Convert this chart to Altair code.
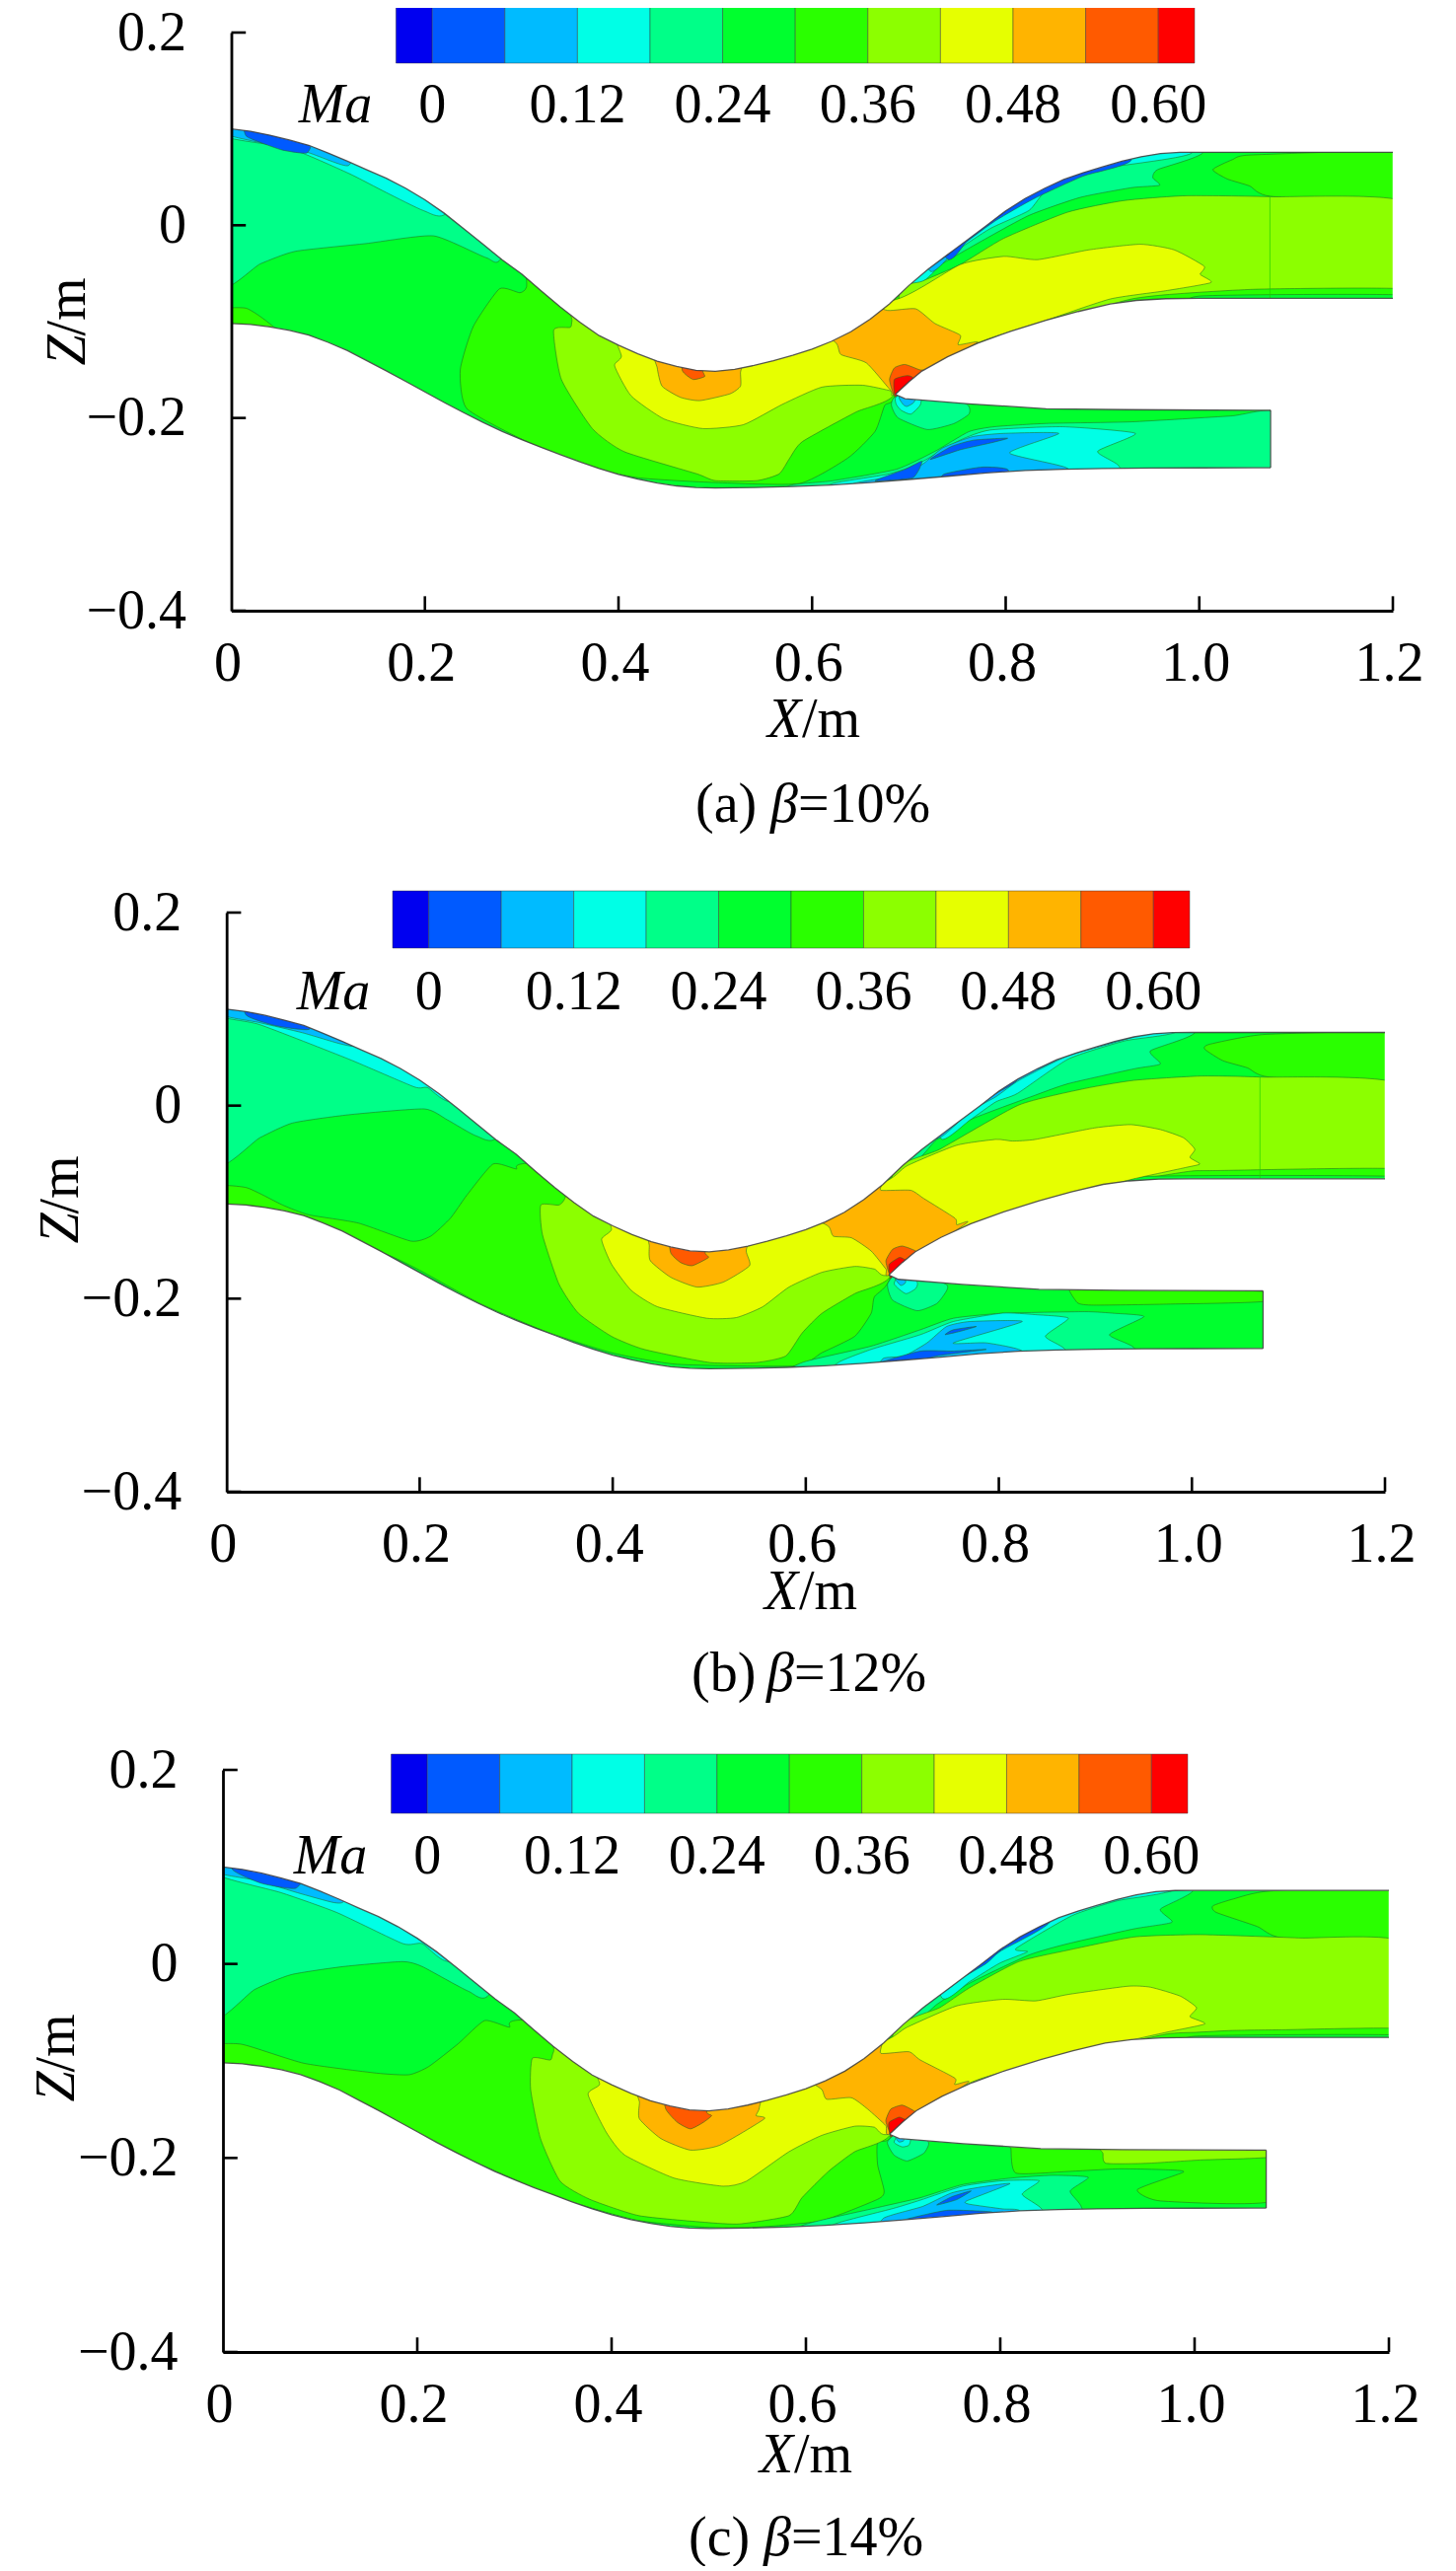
import altair as alt
import pandas as pd

FONT = "Liberation Serif"
BAND_COLORS = ["#0000f0", "#005aff", "#00bbff", "#00ffe6", "#00ff88", "#00ff2e",
               "#2aff00", "#8cff00", "#e6ff00", "#ffb400", "#ff5a00", "#ff0000"]
BAND_EDGES = [-0.03, 0, 0.06, 0.12, 0.18, 0.24, 0.30, 0.36, 0.42, 0.48, 0.54, 0.60, 0.63]
MA_TICKS = [0, 0.12, 0.24, 0.36, 0.48, 0.60]
X_TICKS = [0, 0.2, 0.4, 0.6, 0.8, 1.0, 1.2]
Z_TICKS = [0.2, 0, -0.2, -0.4]

WALL_TOP = [(0, .1), (.02, .0975), (.04, .0935), (.06, .0885), (.08, .083), (.10, .075), (.12, .0665), (.14, .0575),
            (.16, .0488), (.18, .0385), (.20, .0265), (.22, .0125), (.24, -.0035), (.26, -.0197), (.28, -.036),
            (.30, -.0505), (.32, -.068), (.34, -.085), (.36, -.1005), (.38, -.1145), (.40, -.1245), (.42, -.1335),
            (.44, -.141), (.46, -.1465), (.48, -.1505), (.50, -.1515), (.52, -.1495), (.54, -.1455), (.56, -.1405),
            (.58, -.135), (.60, -.1285), (.62, -.1205), (.64, -.1105), (.66, -.0975), (.68, -.0815), (.70, -.0625),
            (.72, -.0455), (.74, -.0305), (.76, -.0155), (.78, -.0005), (.80, .015), (.82, .0277), (.84, .0382),
            (.86, .0475), (.88, .0545), (.90, .0605), (.92, .0665), (.94, .0712), (.96, .0745), (.98, .0757),
            (1.0, .0758), (1.2, .0758)]
WALL_SPLIT_UP = [(.686, -.1755), (.70, -.1625), (.7135, -.1513), (.74, -.1365), (.771, -.1224), (.805, -.11), (.8417, -.0986),
                 (.875, -.0895), (.908, -.0816), (.935, -.078), (.9655, -.0762), (1.0, -.0758), (1.2, -.0758)]
WALL_SPLIT_LOW = [(.686, -.1755), (.696, -.18), (.762, -.1853), (.8417, -.1904), (.926, -.1914), (1.0737, -.192)]
WALL_BOTTOM = [(0, -.102), (.02, -.103), (.04, -.1055), (.06, -.109), (.08, -.114), (.10, -.1215), (.12, -.13),
               (.14, -.1405), (.16, -.151), (.18, -.162), (.20, -.173), (.22, -.184), (.24, -.1945), (.26, -.2045),
               (.28, -.214), (.30, -.2225), (.32, -.2305), (.34, -.238), (.36, -.2455), (.38, -.2525), (.40, -.2585),
               (.42, -.2635), (.44, -.2675), (.46, -.2705), (.48, -.2722), (.50, -.2727), (.54, -.2722), (.58, -.2712),
               (.62, -.2695), (.66, -.267), (.70, -.2638), (.74, -.2605), (.78, -.257), (.82, -.2545), (.86, -.2532),
               (.90, -.2525), (.95, -.252), (1.0, -.2518), (1.0737, -.2516)]

BASE = (5, [(-.02, .12), (.02, .12), (.6, .12), (1.18, .12), (1.22, .12), (1.22, .08), (1.22, -.1), (1.22, -.26), (1.22, -.3),
            (1.18, -.3), (.6, -.3), (.02, -.3), (-.02, -.3), (-.02, -.26), (-.02, -.1), (-.02, .08)])

POLYS_A = [
    BASE,
    (4, [(0, -.061), (.03, -.04), (.0663, -.027), (.139, -.019), (.209, -.011), (.2635, -.0337), (.28, -.032), (.33, .1), (0, .15)]),
    (3, [(0, .095), (.06, .08), (.121, .054), (.16, .034), (.199, .015), (.2225, .013), (.27, .1), (0, .15)]),
    (2, [(0, .098), (.076, .0765), (.121, .062), (.125, .1), (0, .15)]),
    (1, [(.015, .093), (.03, .086), (.053, .078), (.078, .075), (.08, .09), (.015, .11)]),
    (6, [(0, -.0885), (.015, -.086), (.037, -.1), (.05, -.115), (0, -.12)]),
    (6, [(.31, -.03), (.305, -.064), (.298, -.07), (.277, -.066), (.25, -.105), (.2365, -.15), (.243, -.19), (.30, -.222), (.36, -.248), (.42, -.262), (.50, -.267), (.587, -.268), (.637, -.2415), (.665, -.214), (.675, -.187), (.686, -.175), (.70, -.05), (.4, -.05)]),
    (7, [(.36, -.05), (.352, -.099), (.35, -.106), (.333, -.109), (.341, -.16), (.373, -.211), (.406, -.235), (.481, -.258), (.50, -.265), (.543, -.265), (.566, -.258), (.577, -.2415), (.59, -.2245), (.645, -.194), (.685, -.175), (.69, -.09)]),
    (4, [(1.004, .0755), (.957, .0578), (.952, .0493), (.959, .0415), (.93, .039), (.877, .0289), (.824, .0102), (.771, -.0187), (.722, -.0476), (.696, -.0714), (.65, 0), (.85, .12), (1.004, .12)]),
    (3, [(.992, .0748), (.894, .0578), (.842, .0357), (.824, .0153), (.784, -.0034), (.744, -.03), (.704, -.06), (.704, .1), (.98, .12)]),
    (2, [(.961, .078), (.886, .0612), (.824, .0306), (.788, .0068), (.753, -.0204), (.722, -.0476), (.70, .03), (.9, .12)]),
    (1, [(.93, .068), (.88, .051), (.83, .028), (.79, .005), (.76, -.017), (.74, -.035), (.70, .03), (.9, .12)]),
    (6, [(1.2, .0748), (1.054, .073), (1.034, .068), (1.014, .0578), (1.029, .048), (1.052, .0408), (1.074, .03), (1.2, .0231)]),
    (7, [(.69, -.07), (.714, -.058), (.753, -.0408), (.798, -.0136), (.864, .0136), (.921, .0255), (.985, .0306), (1.074, .0296), (1.2, .0231), (1.2, -.09), (.95, -.09), (.80, -.14), (.70, -.18)]),
    (6, [(.771, -.1235), (.864, -.095), (.93, -.0765), (.974, -.0714), (1.062, -.0663), (1.2, -.0663), (1.2, -.09), (.771, -.15)]),
    (5, [(1.0, -.0735), (1.2, -.0725), (1.2, -.09), (1.0, -.09)]),
    (8, [(.403, -.136), (.396, -.146), (.413, -.177), (.447, -.201), (.487, -.211), (.529, -.207), (.569, -.186), (.61, -.168), (.652, -.166), (.682, -.172), (.686, -.175), (.771, -.1224), (.842, -.0986), (.908, -.0765), (.965, -.068), (1.012, -.0595), (1.001, -.051), (1.005, -.0425), (.974, -.0255), (.939, -.0197), (.886, -.0255), (.833, -.0357), (.798, -.0323), (.753, -.0408), (.687, -.077), (.55, -.1), (.40, -.1)]),
    (9, [(.625, -.1224), (.63, -.1343), (.656, -.1428), (.68, -.170), (.686, -.175), (.72, -.15), (.771, -.1215), (.751, -.124), (.753, -.114), (.727, -.102), (.707, -.0867), (.678, -.0884), (.65, -.08), (.6, -.10)]),
    (10, [(.684, -.175), (.68, -.16), (.685, -.148), (.696, -.1445), (.711, -.15), (.716, -.151), (.72, -.165), (.69, -.18)]),
    (11, [(.685, -.175), (.685, -.16), (.698, -.156), (.704, -.158), (.71, -.17), (.69, -.18)]),
    (9, [(.44, -.148), (.445, -.167), (.464, -.1786), (.484, -.182), (.515, -.175), (.526, -.167), (.526, -.153), (.526, -.13), (.44, -.13)]),
    (10, [(.466, -.151), (.477, -.16), (.489, -.157), (.487, -.151), (.487, -.13), (.466, -.13)]),
    (4, [(.686, -.178), (.682, -.187), (.689, -.2), (.719, -.212), (.746, -.206), (.762, -.196), (.76, -.186), (.72, -.17)]),
    (3, [(.687, -.178), (.687, -.186), (.692, -.192), (.702, -.196), (.712, -.186), (.712, -.17)]),
    (2, [(.69, -.178), (.694, -.186), (.698, -.188), (.705, -.184), (.708, -.175)]),
    (4, [(.5765, -.2703), (.621, -.2652), (.687, -.2533), (.727, -.2346), (.762, -.2142), (.789, -.209), (.842, -.2057), (.93, -.204), (1.032, -.198), (1.08, -.1955), (1.08, -.29), (.5765, -.29)]),
    (3, [(.621, -.268), (.678, -.2584), (.709, -.248), (.753, -.223), (.784, -.2125), (.859, -.2091), (.934, -.216), (.895, -.2346), (.917, -.25), (.917, -.28), (.621, -.28)]),
    (2, [(.643, -.268), (.687, -.26), (.714, -.248), (.735, -.231), (.766, -.2193), (.798, -.216), (.855, -.216), (.804, -.2363), (.864, -.2523), (.864, -.28), (.643, -.28)]),
    (1, [(.802, -.221), (.767, -.223), (.744, -.2295), (.722, -.243), (.753, -.233), (.784, -.226)]),
    (1, [(.7135, -.245), (.704, -.262), (.665, -.2652), (.696, -.2533)]),
    (1, [(.736, -.2584), (.775, -.251), (.802, -.2533), (.8, -.27), (.736, -.27)]),
]

POLYS_B = [
    BASE,
    (4, [(0, -.06), (.0344, -.0333), (.0684, -.018), (.1263, -.0095), (.2046, -.0034), (.2285, -.0146), (.2591, -.0316), (.282, -.03), (.33, .1), (0, .15)]),
    (3, [(0, .096), (.034, .084), (.1263, .0483), (.1944, .0194), (.208, .0187), (.235, .006), (.28, .1), (0, .15)]),
    (2, [(0, .098), (.034, .086), (.0786, .0755), (.1195, .0636), (.135, .0636), (.12, .11), (0, .15)]),
    (1, [(.02, .094), (.05, .083), (.0854, .079), (.09, .1), (.02, .12)]),
    (6, [(0, -.0843), (.0207, -.085), (.058, -.103), (.0854, -.1132), (.1365, -.1217), (.191, -.1404), (.2114, -.1353), (.2319, -.1166), (.2489, -.0928), (.2761, -.0605), (.3, -.0656), (.3085, -.06), (.45, -.05), (.70, -.05), (.688, -.176), (.6711, -.198), (.6677, -.2152), (.6507, -.239), (.6167, -.256), (.5894, -.2696), (.4668, -.268), (.3987, -.256), (.3306, -.234), (.2625, -.205), (.1944, -.1676), (.1467, -.148), (0, -.12)]),
    (7, [(.36, -.05), (.351, -.0945), (.3442, -.103), (.3255, -.103), (.3272, -.1336), (.3442, -.1846), (.3646, -.2152), (.3987, -.239), (.4327, -.2526), (.5008, -.2662), (.5486, -.2662), (.5792, -.2594), (.5962, -.2356), (.6167, -.2152), (.6507, -.1948), (.688, -.176), (.69, -.09)]),
    (4, [(1.003, .0755), (.957, .0568), (.9673, .0432), (.94, .0381), (.872, .0228), (.838, .0109), (.77, -.0146), (.7358, -.035), (.7018, -.0656), (.65, 0), (.85, .12), (1.003, .12)]),
    (3, [(.985, .078), (.93, .067), (.872, .0483), (.8192, .0126), (.797, .004), (.77, -.015), (.74, -.034), (.74, .05), (.9, .12)]),
    (2, [(.96, .08), (.872, .0517), (.821, .0262), (.797, .0092), (.77, -.006), (.735, -.034), (.72, .03), (.9, .12)]),
    (1, [(.82, .028), (.797, .0125), (.77, -.004), (.75, -.017), (.72, -.03), (.72, .05), (.82, .07)]),
    (6, [(1.2, .0738), (1.0763, .0738), (1.0184, .0636), (1.0133, .0585), (1.032, .0466), (1.0576, .0391), (1.08, .0296), (1.2, .0218)]),
    (7, [(.69, -.07), (.7392, -.045), (.8209, .0007), (.889, .0177), (.94, .0262), (1.008, .0306), (1.0705, .0296), (1.2, .0218), (1.2, -.09), (.95, -.09), (.80, -.14), (.70, -.18)]),
    (6, [(.77, -.128), (.889, -.0915), (.94, -.0775), (.998, -.068), (1.025, -.0673), (1.2, -.0656), (1.2, -.09), (.77, -.15)]),
    (5, [(.95, -.0735), (1.2, -.0735), (1.2, -.09), (.95, -.09)]),
    (8, [(.3987, -.1285), (.3885, -.1387), (.3987, -.1642), (.4192, -.1914), (.4464, -.2084), (.4975, -.2203), (.5281, -.2196), (.5554, -.2084), (.5826, -.188), (.6167, -.1727), (.6507, -.1666), (.6711, -.1693), (.6865, -.175), (.77, -.1234), (.838, -.103), (.889, -.0894), (.94, -.0758), (.9946, -.0639), (1.0082, -.0605), (.998, -.0537), (1.003, -.0452), (.9912, -.0333), (.9673, -.0248), (.9367, -.0197), (.8992, -.0231), (.838, -.035), (.8141, -.0367), (.7971, -.035), (.7562, -.0411), (.7052, -.0622), (.6779, -.08), (.55, -.1), (.40, -.1)]),
    (9, [(.6235, -.1251), (.6286, -.1353), (.6473, -.137), (.6677, -.1506), (.683, -.1693), (.6875, -.175), (.7665, -.1217), (.7563, -.1234), (.7545, -.1166), (.7222, -.0962), (.7086, -.0877), (.6779, -.0877), (.6779, -.08), (.64, -.09), (.6, -.11)]),
    (10, [(.6865, -.1744), (.683, -.1608), (.6899, -.1489), (.70, -.1455), (.7137, -.1506), (.72, -.16), (.69, -.18)]),
    (11, [(.6865, -.1727), (.6865, -.1642), (.6967, -.1574), (.7018, -.159), (.71, -.165), (.69, -.18)]),
    (9, [(.4379, -.1455), (.439, -.1608), (.46, -.1778), (.4873, -.188), (.5145, -.1829), (.5417, -.1659), (.5383, -.1506), (.54, -.12), (.44, -.12)]),
    (10, [(.46, -.1523), (.4702, -.1625), (.4822, -.1659), (.4992, -.1574), (.4958, -.1523), (.50, -.13), (.46, -.13)]),
    (4, [(.6848, -.1846), (.69, -.2016), (.7154, -.2125), (.7358, -.205), (.746, -.1914), (.7443, -.1846), (.70, -.17)]),
    (3, [(.6916, -.1846), (.7035, -.1948), (.7137, -.1897), (.7154, -.1829), (.70, -.17)]),
    (2, [(.693, -.1795), (.6984, -.1863), (.7035, -.1829), (.70, -.17)]),
    (6, [(.8805, -.18), (.8805, -.2033), (.896, -.2067), (.974, -.2057), (1.08, -.2023), (1.08, -.18)]),
    (4, [(.5962, -.2662), (.6677, -.2492), (.7188, -.2322), (.7529, -.2203), (.8039, -.2152), (.889, -.2135), (.9197, -.2152), (.9503, -.2186), (.9146, -.2373), (.94, -.2509), (.94, -.28), (.5962, -.28)]),
    (3, [(.6337, -.2662), (.6677, -.2526), (.7188, -.2373), (.7529, -.2237), (.804, -.215), (.838, -.2166), (.872, -.2203), (.8482, -.239), (.8686, -.2526), (.8686, -.28), (.6337, -.28)]),
    (2, [(.7018, -.2594), (.7256, -.2458), (.746, -.2288), (.77, -.2237), (.8243, -.2237), (.7528, -.2458), (.7869, -.2458), (.8243, -.2543), (.8243, -.28), (.68, -.28), (.68, -.262)]),
    (1, [(.7443, -.2373), (.7529, -.2322), (.7767, -.2288), (.7597, -.2339)]),
    (1, [(.678, -.2662), (.7188, -.2543), (.7529, -.2543), (.7869, -.2526), (.7358, -.2594), (.70, -.27)]),
]

POLYS_C = [
    BASE,
    (4, [(0, -.055), (.0327, -.0263), (.07, -.0111), (.124, -.0027), (.1848, .0024), (.2051, -.0027), (.2524, -.028), (.275, -.03), (.33, .1), (0, .15)]),
    (3, [(0, .096), (.06, .0734), (.117, .0531), (.185, .021), (.205, .021), (.235, .004), (.28, .1), (0, .15)]),
    (2, [(0, .098), (.035, .086), (.0767, .0734), (.1139, .0633), (.125, .066), (.12, .11), (0, .15)]),
    (1, [(.01, .097), (.04, .083), (.075, .078), (.085, .1), (.01, .12)]),
    (6, [(0, -.0855), (.0192, -.0828), (.0834, -.1024), (.1578, -.1125), (.1916, -.1142), (.2119, -.1057), (.2423, -.0821), (.2693, -.0584), (.2947, -.0652), (.303, -.058), (.45, -.05), (.70, -.05), (.688, -.175), (.6738, -.1835), (.6738, -.2071), (.6805, -.2342), (.6738, -.2426), (.6163, -.2646), (.5487, -.2714), (.4958, -.2714), (.4282, -.2646), (.3775, -.2511), (.3268, -.2342), (.2592, -.2038), (.1815, -.1666), (.14, -.15), (0, -.12)]),
    (7, [(.36, -.05), (.3403, -.0905), (.3369, -.099), (.3184, -.0973), (.3167, -.1294), (.3268, -.18), (.3471, -.224), (.3775, -.2426), (.4282, -.2595), (.4958, -.2663), (.5318, -.268), (.5825, -.2595), (.596, -.2409), (.6231, -.2139), (.6501, -.1936), (.6873, -.175), (.69, -.09)]),
    (4, [(.9986, .0758), (.9648, .0565), (.9767, .043), (.9378, .0362), (.8702, .021), (.8296, .0092), (.7688, -.0196), (.735, -.0415), (.70, -.066), (.65, 0), (.85, .12), (.9986, .12)]),
    (3, [(.98, .078), (.92, .065), (.8736, .0497), (.8161, .0159), (.828, .0126), (.7992, .0007), (.7688, -.018), (.74, -.035), (.72, .05), (.9, .12)]),
    (2, [(.96, .08), (.87, .054), (.82, .0262), (.8, .0135), (.7688, -.0075), (.735, -.03), (.70, .03), (.9, .12)]),
    (1, [(.85, .042), (.8, .013), (.785, .0), (.75, -.02), (.72, -.03), (.72, .05), (.85, .08)]),
    (6, [(1.2, .08), (1.0761, .075), (1.04, .067), (1.0189, .0599), (1.0223, .0531), (1.0645, .0386), (1.09, .027), (1.2, .0217)]),
    (7, [(.69, -.07), (.738, -.0449), (.7684, -.0246), (.8191, .0024), (.8702, .0143), (.9378, .0278), (1.0054, .0302), (1.107, .0268), (1.2, .0217), (1.2, -.09), (.95, -.09), (.80, -.14), (.70, -.18)]),
    (6, [(.7688, -.125), (.904, -.0875), (.9716, -.0723), (1.002, -.0705), (1.0392, -.0686), (1.0899, -.0679), (1.2, -.0669), (1.2, -.09), (.77, -.15)]),
    (5, [(1.0, -.0745), (1.2, -.0735), (1.2, -.09), (1.0, -.09)]),
    (8, [(.3876, -.1243), (.3758, -.1345), (.3944, -.1733), (.4135, -.197), (.4642, -.2207), (.5149, -.2291), (.5386, -.224), (.5825, -.1936), (.6163, -.1767), (.6501, -.1673), (.6704, -.1683), (.6856, -.175), (.7688, -.1226), (.8364, -.1024), (.904, -.0855), (.9716, -.0703), (1.0105, -.0618), (.9953, -.0544), (1.002, -.045), (.9851, -.0331), (.9547, -.024), (.931, -.023), (.8702, -.0314), (.8364, -.0381), (.8026, -.0365), (.7553, -.0432), (.7042, -.0652), (.6772, -.08), (.55, -.1), (.39, -.1)]),
    (9, [(.6163, -.1294), (.6214, -.1395), (.6467, -.1379), (.6636, -.1497), (.6822, -.1666), (.6873, -.175), (.7667, -.1226), (.7532, -.1243), (.7532, -.1176), (.7177, -.099), (.7059, -.0905), (.6772, -.0922), (.6772, -.08), (.64, -.09), (.6, -.115)]),
    (10, [(.6856, -.1717), (.6822, -.1615), (.6873, -.1497), (.6991, -.1456), (.711, -.1514), (.72, -.16), (.69, -.18)]),
    (11, [(.6856, -.1717), (.6856, -.1632), (.6957, -.158), (.7008, -.1598), (.71, -.165), (.69, -.18)]),
    (9, [(.4287, -.1429), (.4287, -.1598), (.4507, -.18), (.4811, -.1919), (.5115, -.1868), (.5571, -.1598), (.5487, -.1564), (.5521, -.148), (.55, -.12), (.43, -.12)]),
    (10, [(.4558, -.1497), (.4676, -.1632), (.4811, -.17), (.4946, -.1632), (.503, -.1564), (.498, -.153), (.50, -.13), (.455, -.13)]),
    (4, [(.6839, -.1835), (.6907, -.197), (.7042, -.2031), (.7211, -.1953), (.7261, -.1869), (.7245, -.1818), (.70, -.17)]),
    (3, [(.6907, -.1835), (.6991, -.1886), (.7059, -.1869), (.7076, -.1801), (.70, -.17)]),
    (2, [(.6924, -.1784), (.6957, -.1835), (.7008, -.1818), (.70, -.17)]),
    (6, [(.811, -.18), (.811, -.1902), (.8161, -.2156), (.8702, -.2139), (.9226, -.2112), (.9716, -.2122), (.9885, -.2146), (.9412, -.2325), (.9648, -.2443), (1.08, -.2443), (1.08, -.18)]),
    (7, [(.9057, -.18), (.9057, -.1953), (.909, -.2055), (.9513, -.2055), (1.0054, -.2021), (1.08, -.1987), (1.08, -.18)]),
    (4, [(.596, -.2697), (.6738, -.2511), (.7177, -.241), (.7616, -.2274), (.8124, -.2206), (.8533, -.2179), (.8905, -.2199), (.8719, -.2342), (.8837, -.2511), (.8837, -.29), (.596, -.29)]),
    (3, [(.63, -.268), (.69, -.252), (.7177, -.2435), (.7616, -.229), (.8022, -.2235), (.84, -.2235), (.8225, -.2375), (.8428, -.2528), (.8428, -.28), (.63, -.28)]),
    (2, [(.68, -.262), (.72, -.25), (.75, -.236), (.78, -.23), (.81, -.2265), (.7654, -.2443), (.7684, -.2477), (.8022, -.2525), (.82, -.2545), (.82, -.28), (.68, -.28)]),
    (1, [(.70, -.264), (.745, -.254), (.79, -.2555), (.79, -.26), (.70, -.268)]),
    (1, [(.7346, -.2485), (.75, -.24), (.77, -.234), (.755, -.243)]),
]

MASKS = [
    WALL_TOP + [(1.25, .0758), (1.25, .205), (-.05, .205), (-.05, .1)],
    WALL_SPLIT_UP + [(1.25, -.0758), (1.25, -.192)] + WALL_SPLIT_LOW[::-1],
    [(1.0737, -.19), (1.25, -.19), (1.25, -.29), (1.0737, -.29)],
    WALL_BOTTOM + [(1.25, -.2516), (1.25, -.38), (-.05, -.38), (-.05, -.102)],
    [(-.05, .205), (0, .205), (0, -.38), (-.05, -.38)],
    [(1.2, .2), (1.25, .2), (1.25, -.38), (1.2, -.38)],
]
WALLS = [WALL_TOP, WALL_SPLIT_UP, WALL_SPLIT_LOW, WALL_BOTTOM,
         [(1.0737, -.192), (1.0737, -.2516)]]

W, H, SPACING = 1460, 860, 5


def table(polys, color=True):
    rows = []
    for pid, item in enumerate(polys):
        band, pts = item if color else (None, item)
        for i, (x, z) in enumerate(pts):
            if color:
                # polygon vertices on the duct's open ends run a little past them; the masks trim them
                x = -.015 if x == 0 else (1.215 if x == 1.2 else x)
            row = {"pid": pid, "i": i, "x": x, "z": z}
            if color:
                row["color"] = BAND_COLORS[band]
            rows.append(row)
    return pd.DataFrame(rows)


def text_layer(txt, x, y, size=56, italic=False, align="left", angle=None):
    kw = dict(font=FONT, fontSize=size, color="black", align=align, baseline="middle")
    if italic:
        kw["fontStyle"] = "italic"
    if angle is not None:
        kw["angle"] = angle
    return alt.Chart(alt.Data(values=[{"t": txt}])).mark_text(**kw).encode(
        x=alt.value(x), y=alt.value(y), text="t:N")


def panel(polys, caption, beta, px, top):
    gx = lambda v: v - 8
    gy = lambda v: v - top
    xs = alt.Scale(domain=[0, 1.2], range=[gx(px["x0"]), gx(px["x1"])])
    ys = alt.Scale(domain=[-.4, .2], range=[gy(px["yb"]), gy(px["yt"])])
    bar_s = alt.Scale(domain=[-.03, .63], range=[gx(px["bar0"]), gx(px["bar1"])])
    lblx = "datum.value==0?'0':replace(format(datum.value,'.1f'),'-','\u2212')"

    x_axis = alt.Axis(values=X_TICKS, orient="bottom", offset=-(H - gy(px["yb"])), tickSize=0,
                      domainColor="black", domainWidth=2.8, labelFont=FONT, labelFontSize=56,
                      labelColor="black", labelPadding=26, labelOffset=-4, labelExpr=lblx, grid=False, title=None,
                      labelOverlap=False, labelFlush=False, zindex=1)
    y_axis = alt.Axis(values=Z_TICKS, orient="left", offset=-gx(px["x0"]), tickSize=0,
                      domainColor="black", domainWidth=2.8, labelFont=FONT, labelFontSize=56,
                      labelColor="black", labelPadding=46, labelExpr=lblx, grid=False, title=None,
                      labelOverlap=False, labelFlush=False, zindex=1)

    fills = alt.Chart(table(polys)).mark_line(
        interpolate="cardinal-closed", tension=.45, stroke="#1f6b1f", strokeWidth=1, strokeOpacity=.55
    ).encode(
        x=alt.X("x:Q", scale=xs, axis=x_axis),
        y=alt.Y("z:Q", scale=ys, axis=y_axis),
        fill=alt.Fill("color:N", scale=None, legend=None),
        detail="pid:N", order="i:Q")
    masks = alt.Chart(table(MASKS, False)).mark_line(
        interpolate="linear-closed", fill="white", stroke="white", strokeWidth=.5
    ).encode(x=alt.X("x:Q", scale=xs, axis=None), y=alt.Y("z:Q", scale=ys, axis=None),
             detail="pid:N", order="i:Q")
    walls = alt.Chart(table(WALLS, False)).mark_line(
        stroke="#222222", strokeWidth=1.3, strokeOpacity=.75
    ).encode(x=alt.X("x:Q", scale=xs, axis=None), y=alt.Y("z:Q", scale=ys, axis=None),
             detail="pid:N", order="i:Q")

    xt = pd.DataFrame({"v": X_TICKS[1:], "a": -.4, "b": -.385})
    zt = pd.DataFrame({"v": Z_TICKS, "a": 0, "b": .015})
    tick_x = alt.Chart(xt).mark_rule(color="black", strokeWidth=2.6).encode(
        x=alt.X("v:Q", scale=xs, axis=None), y=alt.Y("a:Q", scale=ys, axis=None), y2="b:Q")
    tick_z = alt.Chart(zt).mark_rule(color="black", strokeWidth=2.6).encode(
        y=alt.Y("v:Q", scale=ys, axis=None), x=alt.X("a:Q", scale=xs, axis=None), x2="b:Q")

    bars = pd.DataFrame({"lo": BAND_EDGES[:-1], "hi": BAND_EDGES[1:], "c": BAND_COLORS})
    bar = alt.Chart(bars).mark_rect(stroke="#333333", strokeWidth=1, strokeOpacity=.45).encode(
        x=alt.X("lo:Q", scale=bar_s, axis=None), x2="hi:Q",
        y=alt.value(gy(px["bary0"])), y2=alt.value(gy(px["bary1"])),
        fill=alt.Fill("c:N", scale=None, legend=None))
    bar_lbl = alt.Chart(pd.DataFrame({"v": MA_TICKS, "t": ["0", "0.12", "0.24", "0.36", "0.48", "0.60"]})).mark_text(
        font=FONT, fontSize=56, color="black", baseline="middle", align="center"
    ).encode(x=alt.X("v:Q", scale=bar_s, axis=None), y=alt.value(gy(px["laby"])), text="t:N")

    layers = [fills]
    if px.get("seam") is not None:
        seam = pd.DataFrame({"v": [px["seam"]], "a": [.03], "b": [-.076]})
        layers.append(alt.Chart(seam).mark_rule(color="#20d000", strokeWidth=1, strokeOpacity=.7).encode(
            x=alt.X("v:Q", scale=xs, axis=None), y=alt.Y("a:Q", scale=ys, axis=None), y2="b:Q"))

    texts = [
        text_layer("Ma", gx(px["max"]), gy(px["laby"]), italic=True, align="center"),
        text_layer("X", gx(px["xl"] - 47), gy(px["xly"]), italic=True),
        text_layer("/m", gx(px["xl"] - 12), gy(px["xly"])),
        text_layer("Z", gx(px["zl"]), gy(px["zly"] + 28), italic=True, align="center", angle=270),
        text_layer("/m", gx(px["zl"]), gy(px["zly"] - 16), align="center", angle=270),
        text_layer(caption, gx(px["cap"] - 120), gy(px["capy"])),
        text_layer("\u03b2", gx(px["cap"] - 44), gy(px["capy"]), italic=True),
        text_layer(beta, gx(px["cap"] - 16), gy(px["capy"])),
    ]
    return alt.layer(*layers, masks, walls, tick_x, tick_z, bar, bar_lbl, *texts).resolve_scale(
        x="independent", y="independent").properties(width=W, height=H)


PX_A = dict(x0=234.5, x1=1412, yt=36, yb=622, bar0=401.4, bar1=1211, bary0=9, bary1=67, laby=110,
            max=340, xl=825, xly=733, zl=69, zly=330, cap=825, capy=819, seam=1.073)
PX_B = dict(x0=229.7, x1=1404, yt=928, yb=1515, bar0=398, bar1=1206, bary0=906, bary1=964, laby=1009,
            max=338, xl=822, xly=1617, zl=62, zly=1220, cap=821, capy=1700, seam=1.0705)
PX_C = dict(x0=226, x1=1408, yt=1797, yb=2387, bar0=396.5, bar1=1204, bary0=1781, bary1=1841, laby=1885,
            max=335, xl=817, xly=2492, zl=58, zly=2090, cap=818, capy=2576)

tops = [8 + k * (H + SPACING) for k in range(3)]
chart = alt.vconcat(
    panel(POLYS_A, "(a) ", "=10%", PX_A, tops[0]),
    panel(POLYS_B, "(b) ", "=12%", PX_B, tops[1]),
    panel(POLYS_C, "(c) ", "=14%", PX_C, tops[2]),
    spacing=SPACING, bounds="flush", background="white",
    padding={"left": 0, "top": -3, "right": 0, "bottom": 0},
).configure_view(stroke=None)

chart.save("out.html", embed_options={"renderer": "svg", "actions": False})
